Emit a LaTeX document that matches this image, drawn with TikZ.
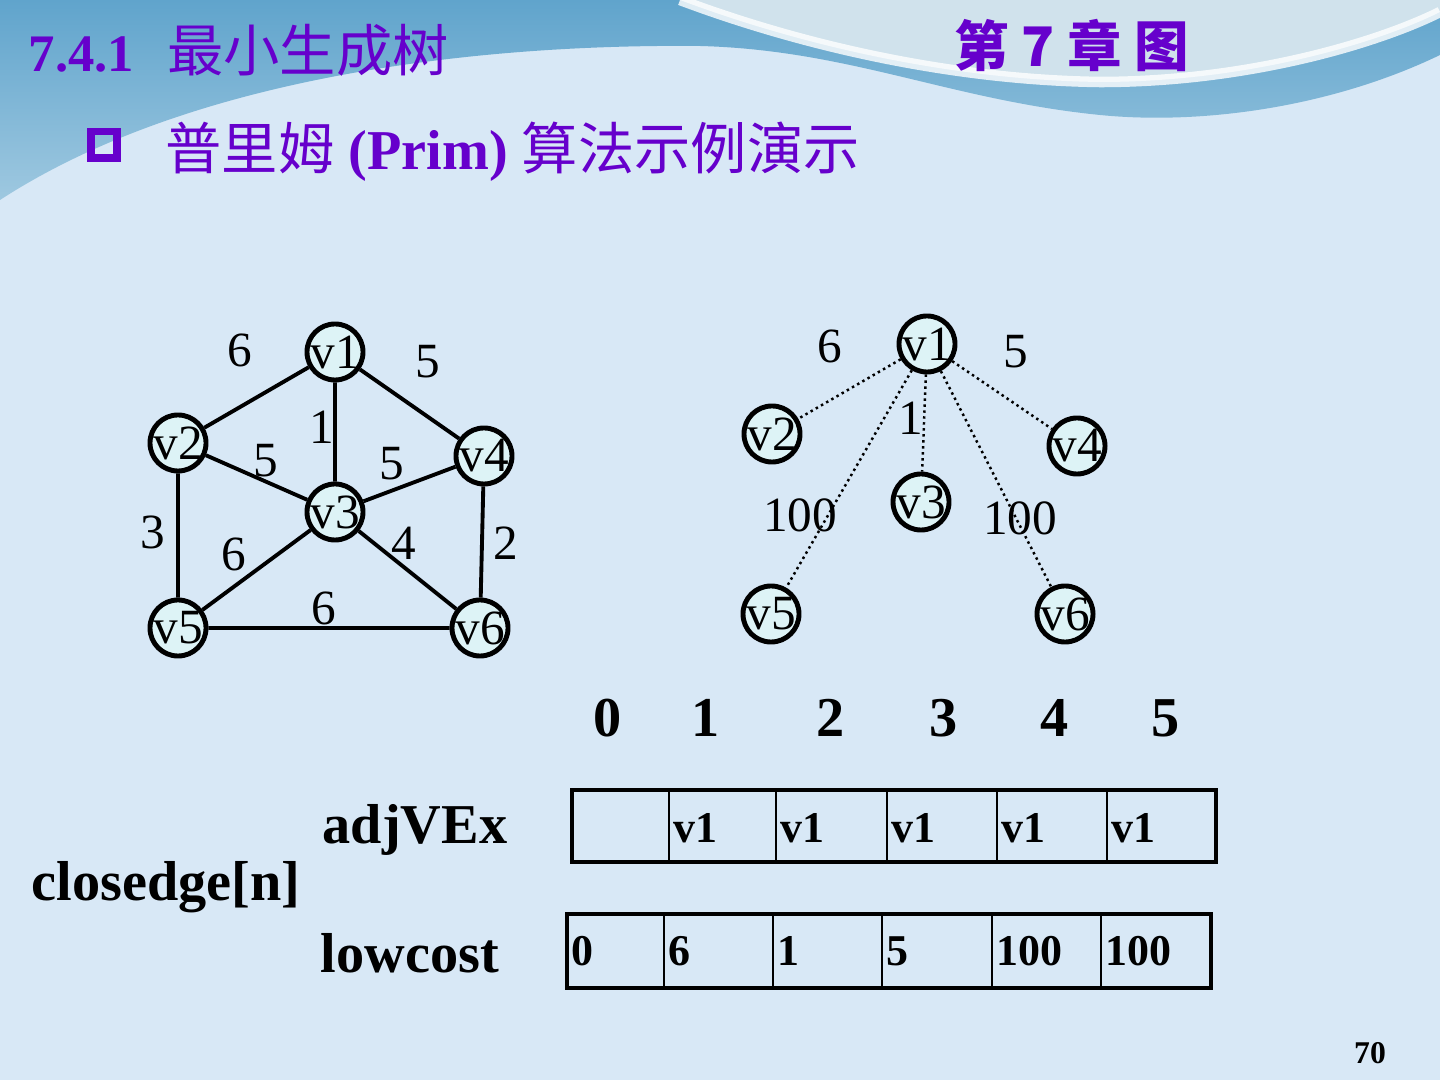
\documentclass[tikz,border=0pt]{standalone}
\usepackage{fontspec}
\setmainfont{Liberation Serif}
\newfontfamily\cjk{Noto Sans CJK SC}
\usepackage{xcolor}
\usepackage{tikz}
\definecolor{cTitel}{RGB}{102,0,204}
\definecolor{cGrund}{RGB}{216,232,246}
\definecolor{cBand}{RGB}{96,164,204}
\definecolor{cBandHell}{RGB}{158,200,224}
\definecolor{cOben}{RGB}{208,226,236}
\definecolor{cKnoten}{RGB}{221,243,246}
\tikzset{
  vert/.style={circle,draw,line width=1.4pt,fill=cKnoten,minimum size=0.56cm,inner sep=0pt,
    label={[font=\fontsize{14}{16}\selectfont,inner sep=0pt]center:#1}},
  kante/.style={line width=1.1pt},
  punktkante/.style={densely dotted,line width=0.7pt},
  gewicht/.style={inner sep=0pt},
  fett/.style={font=\bfseries\fontsize{16}{18}\selectfont},
  zelle/.style={anchor=west,inner sep=1pt,font=\bfseries\fontsize{12.5}{14}\selectfont}
}

\begin{document}
\begin{tikzpicture}[x=0.01cm,y=-0.01cm,font=\fontsize{14}{16}\selectfont]
\useasboundingbox (0,0) rectangle (1440,1080);
\fill[cGrund] (0,0) rectangle (1440,1080);
\shade[top color=cBand,bottom color=cBandHell] (0,0)--(1440,0)--(1440,55) .. controls (1330,108) and (1200,125) .. (1100,115) .. controls (950,100) and (850,50) .. (700,46) .. controls (500,44) and (200,70) .. (0,200)--cycle;
\fill[cOben] (680,0) .. controls (800,45) and (950,80) .. (1100,82) .. controls (1250,82) and (1380,42) .. (1440,12)--(1440,0)--cycle;
\draw[white,line width=3pt,opacity=0.8] (680,0) .. controls (800,45) and (950,80) .. (1100,82) .. controls (1250,82) and (1380,42) .. (1440,12);

\node[anchor=west,text=cTitel,inner sep=0pt] (titel) at (28,50) {{\bfseries\fontsize{15}{18}\selectfont 7.4.1}\hspace{0.33cm}{\cjk\fontsize{16}{18}\selectfont 最小生成树}};
\node[text=cTitel,inner sep=0pt] (kapitel) at (1072,46) {\cjk\bfseries\fontsize{15.5}{18}\selectfont 第 7 章 图};
\node[draw=cTitel,line width=2pt,minimum size=0.26cm,inner sep=0pt] (kasten) at (104,145) {};
\node[anchor=west,text=cTitel,inner sep=0pt] (untertitel) at (165,152) {\fontsize{16}{18}\selectfont{\cjk 普里姆}\ {\bfseries (Prim)}\ {\cjk 算法示例演示}};

\node[vert=v1] (a1) at (335,352) {};
\node[vert=v2] (a2) at (178,443) {};
\node[vert=v3] (a3) at (335,512) {};
\node[vert=v4] (a4) at (484,456) {};
\node[vert=v5] (a5) at (178,628) {};
\node[vert=v6] (a6) at (480,628) {};
\draw[kante] (a1)--(a2) (a1)--(a3) (a1)--(a4) (a2)--(a3) (a3)--(a4) (a2)--(a5) (a3)--(a5) (a3)--(a6) (a4)--(a6) (a5)--(a6);
\node[gewicht] (g12) at (240,350) {6};
\node[gewicht] (g14) at (428,362) {5};
\node[gewicht] (g13) at (322,427) {1};
\node[gewicht] (g23) at (266,461) {5};
\node[gewicht] (g34) at (392,464) {5};
\node[gewicht] (g25) at (153,532) {3};
\node[gewicht] (g35) at (234,554) {6};
\node[gewicht] (g36) at (404,543) {4};
\node[gewicht] (g46) at (506,543) {2};
\node[gewicht] (g56) at (324,608) {6};

\node[vert=v1] (b1) at (927,344) {};
\node[vert=v2] (b2) at (772,434) {};
\node[vert=v3] (b3) at (921,502) {};
\node[vert=v4] (b4) at (1077,446) {};
\node[vert=v5] (b5) at (771,614) {};
\node[vert=v6] (b6) at (1065,614) {};
\draw[punktkante] (b1)--(b2) (b1)--(b3) (b1)--(b4) (b1)--(b5) (b1)--(b6);
\node[gewicht] (h12) at (830,346) {6};
\node[gewicht] (h14) at (1016,352) {5};
\node[gewicht] (h13) at (911,418) {1};
\node[gewicht] (h15) at (800,515) {100};
\node[gewicht] (h16) at (1020,518) {100};

\foreach \i/\x in {0/608,1/706,2/831,3/944,4/1055,5/1166}
  \node[fett] (idx\i) at (\x,718) {\i};

\node[fett] (adj) at (415,830) {adjVEx};
\node[fett] (close) at (166,887) {closedge[n]};
\node[fett] (low) at (410,953) {lowcost};

\draw[line width=1.2pt] (572,790) rectangle (1216,862);
\foreach \x in {669,776,887,997,1107}
  \draw[line width=0.6pt] (\x,790)--(\x,862);
\foreach \x [count=\i] in {669,776,887,997,1107}
  \node[zelle] (adjv\i) at (\x,828) {v1};

\draw[line width=1.2pt] (567,914) rectangle (1211,988);
\foreach \x in {664,773,882,992,1101}
  \draw[line width=0.6pt] (\x,914)--(\x,988);
\foreach \x/\t [count=\i] in {567/0,664/6,773/1,882/5,992/100,1101/100}
  \node[zelle] (cost\i) at (\x,951) {\t};

\node[font=\bfseries\fontsize{9}{10}\selectfont] (seite) at (1370,1053) {70};
\end{tikzpicture}
\end{document}
